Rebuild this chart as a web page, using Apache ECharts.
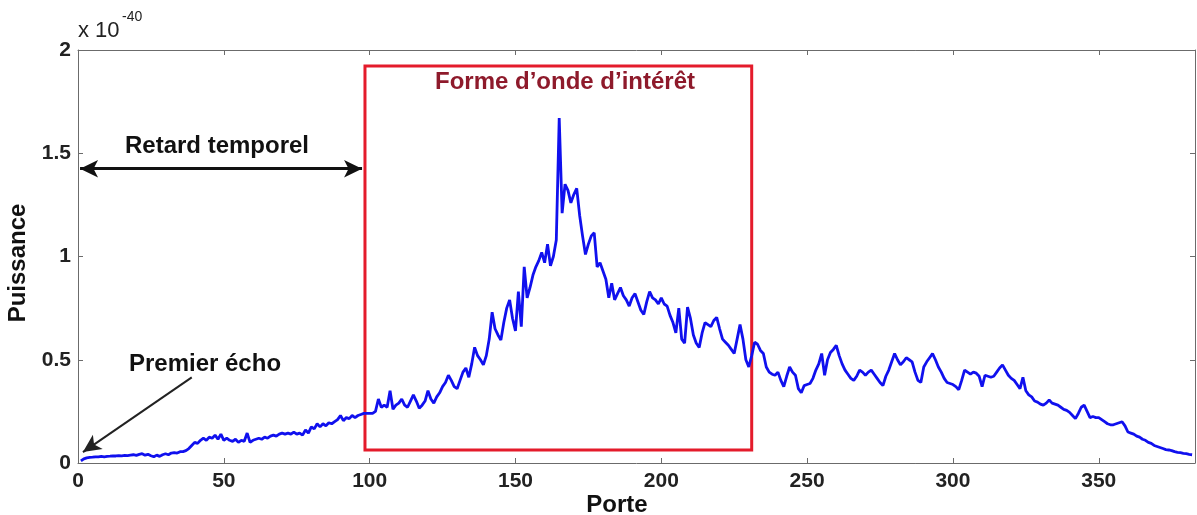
<!DOCTYPE html>
<html>
<head>
<meta charset="utf-8">
<script src="https://cdn.jsdelivr.net/npm/echarts@6/dist/echarts.min.js"></script>
<style>
html,body{margin:0;padding:0;background:#fff;}
#chart{width:1197px;height:515px;}
</style>
</head>
<body>
<div id="chart"></div>
<script>
// puissance (x 1e-40) pour chaque porte 1..382
var puissance = [
	.01,.02,.025,.027,.028,.03,.03,.032,.03,.032,
	.033,.035,.034,.036,.035,.037,.036,.038,.04,.037,
	.042,.045,.038,.042,.035,.03,.038,.032,.04,.045,
	.04,.048,.05,.048,.055,.055,.06,.07,.085,.10,
	.095,.11,.12,.11,.125,.12,.135,.115,.14,.11,
	.12,.11,.105,.115,.10,.11,.105,.145,.10,.11,
	.115,.12,.115,.125,.12,.13,.135,.13,.14,.145,
	.14,.145,.14,.15,.14,.145,.135,.16,.145,.175,
	.165,.19,.175,.19,.18,.195,.19,.20,.21,.23,
	.205,.22,.215,.23,.22,.23,.235,.24,.24,.24,
	.24,.25,.31,.27,.28,.27,.35,.26,.28,.29,
	.31,.28,.27,.30,.33,.30,.265,.28,.30,.35,
	.31,.29,.32,.34,.37,.39,.425,.40,.37,.36,
	.40,.44,.46,.415,.48,.56,.52,.50,.475,.52,
	.60,.73,.65,.62,.595,.68,.75,.79,.70,.64,
	.83,.66,.95,.80,.85,.91,.95,.98,1.02,.97,
	1.06,.955,1.0,1.08,1.67,1.21,1.35,1.32,1.26,1.30,
	1.33,1.20,1.10,1.01,1.06,1.10,1.115,.95,.97,.93,
	.89,.80,.87,.79,.82,.85,.81,.79,.76,.80,
	.82,.78,.74,.72,.78,.83,.80,.79,.77,.80,
	.77,.76,.715,.68,.63,.75,.60,.58,.755,.70,
	.62,.58,.56,.63,.68,.67,.66,.69,.705,.65,
	.60,.585,.57,.55,.53,.60,.67,.60,.50,.465,
	.52,.585,.575,.545,.53,.465,.44,.43,.425,.44,
	.40,.37,.42,.465,.44,.425,.36,.34,.375,.38,
	.385,.41,.45,.48,.53,.425,.50,.535,.55,.57,
	.52,.48,.45,.43,.41,.40,.42,.45,.44,.425,
	.44,.45,.43,.41,.39,.375,.42,.45,.49,.53,
	.50,.475,.49,.51,.50,.49,.44,.40,.39,.465,
	.49,.51,.53,.50,.465,.44,.41,.39,.385,.38,
	.37,.355,.40,.45,.44,.43,.44,.435,.42,.37,
	.425,.42,.415,.42,.44,.46,.475,.45,.425,.41,
	.40,.38,.36,.415,.35,.33,.32,.30,.295,.285,
	.28,.29,.305,.29,.285,.28,.27,.26,.255,.245,
	.23,.215,.24,.27,.28,.25,.22,.225,.22,.22,
	.21,.20,.19,.185,.185,.19,.195,.20,.18,.15,
	.145,.14,.13,.125,.115,.11,.10,.095,.085,.08,
	.075,.07,.065,.063,.06,.055,.052,.05,.047,.045,
	.042,.04
];
var premierePorte = 1;
var xTicks = [0, 50, 100, 150, 200, 250, 300, 350];
var yTicks = [0, 0.5, 1, 1.5, 2];

// zone d'intérêt [porte debut, porte fin, puissance bas, puissance haut]
var zoneInteret = [98.4, 231, 0.063, 1.923];
var retard = [0.7, 97.4, 1.425];
var echo = [[39, 0.415], [1.7, 0.053]];

var font = '"Liberation Sans", Arial, sans-serif';

var data = [];
for (var i = 0; i < puissance.length; i++) {
	data.push([premierePorte + i, puissance[i]]);
}

function _eChar(domId, option) {
	var dom = echarts.init(document.getElementById(domId), null, {renderer: 'canvas'});
	dom.setOption(option);
	return dom;
}

var axisLine = {show: true, onZero: false, lineStyle: {color: '#6b6b6b', width: 1}};
var tick = {show: true, inside: true, length: 5, lineStyle: {color: '#6b6b6b'}};
var lab = {color: '#222', fontFamily: font, fontWeight: 'bold', fontSize: 21};

function txt(x, y, s, size, color, extra) {
	var o = {type: 'text', x: x, y: y, style: {text: s, font: 'bold ' + size + 'px ' + font, fill: color || '#111', textAlign: 'center', textVerticalAlign: 'middle'}};
	if (extra) Object.assign(o, extra);
	return o;
}

var option = {
	animation: false,
	backgroundColor: '#fff',
	grid: {left: 78, right: 2, top: 50, bottom: 52, containLabel: false},
	xAxis: [{
		type: 'value', min: 0, max: 383, interval: 50,
		axisLine: axisLine, axisTick: tick, splitLine: {show: false},
		axisLabel: Object.assign({margin: 8, showMaxLabel: false}, lab)
	}, {
		type: 'value', position: 'top', min: 0, max: 383, interval: 50,
		axisLine: axisLine, axisTick: tick, splitLine: {show: false},
		axisLabel: {show: false}
	}],
	yAxis: [{
		type: 'value', min: 0, max: 2, interval: 0.5,
		axisLine: axisLine, axisTick: tick, splitLine: {show: false},
		axisLabel: Object.assign({margin: 7}, lab)
	}, {
		type: 'value', position: 'right', min: 0, max: 2, interval: 0.5,
		axisLine: axisLine, axisTick: tick, splitLine: {show: false},
		axisLabel: {show: false}
	}],
	series: [{
		type: 'line',
		data: data,
		showSymbol: false,
		lineStyle: {color: '#1010ee', width: 2.8},
		z: 3,
		markArea: {
			silent: true,
			itemStyle: {color: 'rgba(0,0,0,0)', borderColor: '#e41b2b', borderWidth: 3},
			data: [[{coord: [zoneInteret[0], zoneInteret[3]]}, {coord: [zoneInteret[1], zoneInteret[2]]}]]
		},
		markLine: {
			silent: true,
			animation: false,
			label: {show: false},
			data: [
				[{coord: [retard[0], retard[2]], symbol: 'arrow', symbolSize: [13, 18], lineStyle: {color: '#111', width: 3, type: 'solid'}},
				 {coord: [retard[1], retard[2]], symbol: 'arrow', symbolSize: [13, 18]}],
				[{coord: echo[0], symbol: 'none', lineStyle: {color: '#222', width: 2, type: 'solid'}},
				 {coord: echo[1], symbol: 'arrow', symbolSize: [13, 18]}]
			]
		}
	}],
	graphic: [
		txt(217, 146, 'Retard temporel', 24),
		txt(205, 364, 'Premier écho', 24),
		txt(565, 82, 'Forme d’onde d’intérêt', 24, '#8e1a2b'),
		txt(617, 505, 'Porte', 24),
		txt(18, 263, 'Puissance', 24, '#111', {rotation: Math.PI / 2}),
		{type: 'text', x: 78, y: 20, style: {text: 'x 10', font: '22px ' + font, fill: '#222'}},
		{type: 'text', x: 122, y: 10, style: {text: '-40', font: '14px ' + font, fill: '#222'}}
	]
};

_eChar('chart', option);
</script>
</body>
</html>
